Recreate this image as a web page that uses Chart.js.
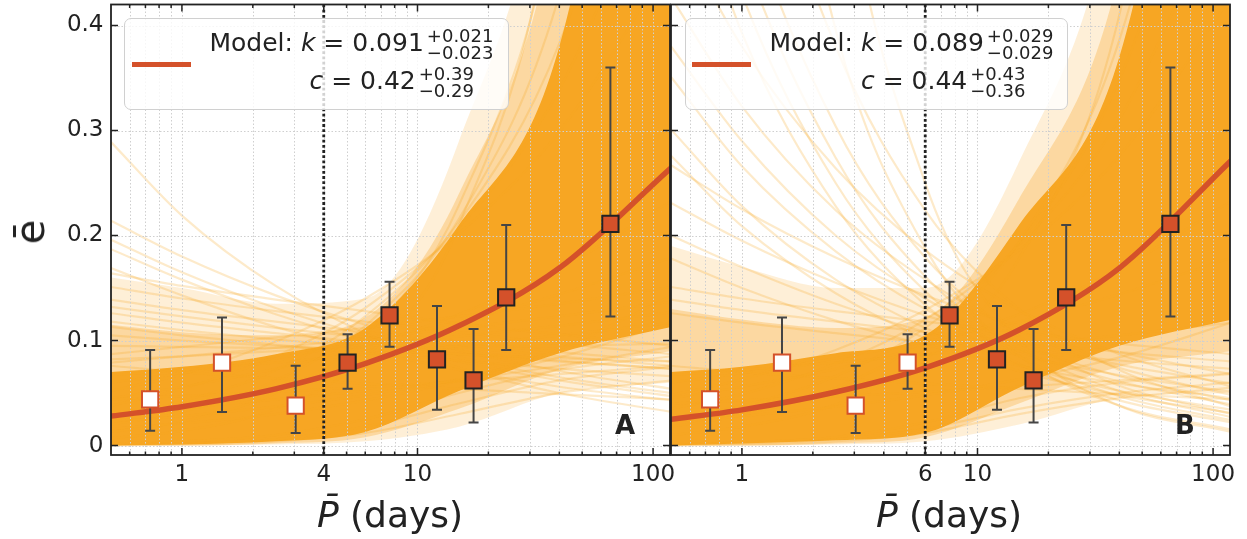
<!DOCTYPE html>
<html>
<head>
<meta charset="utf-8">
<script src="https://cdn.jsdelivr.net/npm/chart.js@4.4.1/dist/chart.umd.min.js"></script>
<style>
  body{margin:0;background:#fff;width:1247px;height:539px;overflow:hidden;position:relative;font-family:"DejaVu Sans",sans-serif;color:#222;}
  canvas{position:absolute;top:0;}
  #chartA{left:0;}
  #chartB{left:660px;}
  .legend{position:absolute;top:18px;height:92px;box-sizing:border-box;border:1.5px solid #d0d0d0;border-radius:7px;background:rgba(255,255,255,0.8);}
  .swatch{position:absolute;top:43px;width:59px;height:5px;background:#d4512a;}
  .row{position:absolute;font-size:25px;line-height:25px;white-space:nowrap;}
  .pm{display:inline-block;position:relative;width:0;height:0;}
  .pm span{position:absolute;left:3px;font-size:18px;line-height:18px;}
  .pm .up{bottom:6px;}
  .pm .dn{top:-7px;}
  .xlabel{position:absolute;top:497px;font-size:36px;line-height:36px;white-space:nowrap;transform:translateX(-50%);}
  .ylabel{position:absolute;left:30px;top:232px;font-size:40px;line-height:40px;transform:translate(-50%,-50%) rotate(-90deg);}
  .panel{position:absolute;top:412px;font-weight:bold;font-size:26px;line-height:26px;}
</style>
</head>
<body>
<canvas id="chartA" width="680" height="539"></canvas>
<canvas id="chartB" width="587" height="539"></canvas>

<div class="legend" style="left:124px;width:385px">
  <div class="swatch" style="left:6.5px"></div>
  <div class="row" style="left:84.5px;top:11px">Model: <i>k</i> = 0.091<span class="pm"><span class="up">+0.021</span><span class="dn">−0.023</span></span></div>
  <div class="row" style="left:184.5px;top:49px"><i>c</i> = 0.42<span class="pm"><span class="up">+0.39</span><span class="dn">−0.29</span></span></div>
</div>
<div class="legend" style="left:685px;width:383px">
  <div class="swatch" style="left:5.5px"></div>
  <div class="row" style="left:83.5px;top:11px">Model: <i>k</i> = 0.089<span class="pm"><span class="up">+0.029</span><span class="dn">−0.029</span></span></div>
  <div class="row" style="left:175px;top:49px"><i>c</i> = 0.44<span class="pm"><span class="up">+0.43</span><span class="dn">−0.36</span></span></div>
</div>

<div class="panel" style="left:615px">A</div>
<div class="panel" style="left:1175px">B</div>
<div class="xlabel" style="left:390px"><i>P̄</i> (days)</div>
<div class="xlabel" style="left:949px"><i>P̄</i> (days)</div>
<div class="ylabel">ē</div>

<script>
// periods (days) at which every curve is tabulated
const samplePeriods = [0.5, 1, 2.5, 6, 15, 40, 120];

// binned mean eccentricity with 1-sigma range
const binPeriods = [0.733, 1.48, 3.04, 5.05, 7.61, 12.1, 17.3, 23.8, 65.9];
const binEcc     = [0.044, 0.079, 0.038, 0.079, 0.124, 0.082, 0.062, 0.141, 0.211];
const binLow     = [0.014, 0.032, 0.012, 0.054, 0.094, 0.034, 0.022, 0.091, 0.123];
const binHigh    = [0.091, 0.122, 0.076, 0.106, 0.156, 0.133, 0.111, 0.210, 0.360];

// period cut used for each fit
const thresholdA = 4;
const thresholdB = 6;

// best-fit model
const modelA = [0.028, 0.037, 0.054, 0.078, 0.114, 0.169, 0.265];
const modelB = [0.025, 0.034, 0.051, 0.074, 0.110, 0.169, 0.272];

// dense part of the posterior draws
const coreLowA  = [0.000, 0.001, 0.004, 0.013, 0.052, 0.088, 0.113];
const coreHighA = [0.070, 0.075, 0.087, 0.112, 0.210, 0.380, 0.950];
const coreLowB  = [0.000, 0.002, 0.005, 0.012, 0.055, 0.095, 0.120];
const coreHighB = [0.070, 0.075, 0.088, 0.105, 0.210, 0.370, 0.900];

// two looser envelopes around the dense part
const innerLowA  = [0.000, 0.000, 0.002, 0.008, 0.035, 0.072, 0.090];
const innerHighA = [0.115, 0.108, 0.105, 0.122, 0.240, 0.520, 1.400];
const outerLowA  = [0.000, 0.000, 0.001, 0.004, 0.018, 0.050, 0.060];
const outerHighA = [0.160, 0.150, 0.135, 0.140, 0.290, 0.650, 1.800];
const innerLowB  = [0.000, 0.000, 0.002, 0.008, 0.040, 0.075, 0.090];
const innerHighB = [0.130, 0.120, 0.112, 0.122, 0.235, 0.450, 1.100];
const outerLowB  = [0.000, 0.000, 0.001, 0.004, 0.020, 0.045, 0.050];
const outerHighB = [0.190, 0.170, 0.150, 0.150, 0.270, 0.550, 1.400];

// individual posterior draws outside the dense part
const drawsA = [
  [0.289, 0.219, 0.152, 0.107, 0.074, 0.050, 0.032],
  [0.196, 0.165, 0.131, 0.105, 0.084, 0.065, 0.050],
  [0.214, 0.180, 0.143, 0.115, 0.091, 0.071, 0.054],
  [0.187, 0.158, 0.125, 0.100, 0.080, 0.062, 0.047],
  [0.139, 0.129, 0.118, 0.108, 0.099, 0.089, 0.080],
  [0.126, 0.117, 0.107, 0.098, 0.090, 0.081, 0.073],
  [0.151, 0.140, 0.128, 0.118, 0.108, 0.097, 0.087],
  [0.079, 0.085, 0.093, 0.102, 0.112, 0.123, 0.137],
  [0.087, 0.094, 0.103, 0.112, 0.123, 0.135, 0.151],
  [0.169, 0.143, 0.113, 0.091, 0.072, 0.056, 0.043],
  [0.164, 0.152, 0.139, 0.128, 0.116, 0.106, 0.095],
  [0.113, 0.105, 0.096, 0.088, 0.081, 0.073, 0.066],
  [0.013, 0.023, 0.050, 0.105, 0.229, 0.527, 1.340],
  [0.020, 0.032, 0.062, 0.114, 0.216, 0.429, 0.925],
  [0.028, 0.042, 0.072, 0.123, 0.213, 0.383, 0.740],
  [0.038, 0.054, 0.085, 0.131, 0.208, 0.339, 0.588],
  [0.007, 0.014, 0.035, 0.084, 0.210, 0.560, 1.680],
  [0.052, 0.068, 0.099, 0.140, 0.202, 0.299, 0.463],
  [0.023, 0.028, 0.037, 0.048, 0.063, 0.084, 0.117],
  [0.032, 0.036, 0.044, 0.052, 0.062, 0.076, 0.094],
  [0.016, 0.021, 0.030, 0.043, 0.062, 0.092, 0.143],
  [0.044, 0.047, 0.051, 0.056, 0.061, 0.068, 0.076],
  [0.076, 0.070, 0.064, 0.059, 0.054, 0.049, 0.044],
  [0.000, 0.001, 0.004, 0.012, 0.030, 0.050, 0.062],
  [0.001, 0.002, 0.006, 0.018, 0.040, 0.062, 0.075],
  [0.002, 0.004, 0.010, 0.025, 0.050, 0.072, 0.085],
  [0.067, 0.072, 0.079, 0.087, 0.095, 0.105, 0.117],
  [0.060, 0.069, 0.083, 0.099, 0.118, 0.144, 0.179],
  [0.045, 0.056, 0.073, 0.095, 0.125, 0.168, 0.233],
  [0.132, 0.123, 0.112, 0.103, 0.094, 0.085, 0.076],
  [0.095, 0.094, 0.093, 0.093, 0.094, 0.095, 0.097],
  [0.105, 0.100, 0.095, 0.091, 0.087, 0.083, 0.080],
  [0.082, 0.085, 0.090, 0.096, 0.104, 0.114, 0.127],
  [0.118, 0.110, 0.101, 0.094, 0.087, 0.080, 0.073]
];
const drawsB = [
  [0.796, 0.524, 0.304, 0.179, 0.104, 0.057, 0.030],
  [0.597, 0.393, 0.228, 0.134, 0.078, 0.043, 0.022],
  [0.427, 0.323, 0.224, 0.158, 0.109, 0.074, 0.048],
  [0.351, 0.266, 0.185, 0.130, 0.090, 0.061, 0.039],
  [0.301, 0.228, 0.158, 0.112, 0.077, 0.052, 0.034],
  [0.995, 0.655, 0.380, 0.224, 0.130, 0.072, 0.037],
  [0.231, 0.195, 0.155, 0.124, 0.099, 0.077, 0.059],
  [0.267, 0.225, 0.179, 0.143, 0.114, 0.089, 0.068],
  [0.151, 0.140, 0.128, 0.118, 0.108, 0.097, 0.087],
  [0.178, 0.150, 0.119, 0.096, 0.076, 0.059, 0.045],
  [0.716, 0.472, 0.274, 0.161, 0.093, 0.052, 0.027],
  [0.276, 0.209, 0.145, 0.102, 0.071, 0.048, 0.031],
  [0.502, 0.380, 0.264, 0.186, 0.129, 0.087, 0.056],
  [3.000, 1.500, 0.600, 0.250, 0.100, 0.038, 0.013],
  [1.560, 0.862, 0.396, 0.188, 0.086, 0.038, 0.015],
  [0.010, 0.018, 0.039, 0.082, 0.178, 0.410, 1.040],
  [0.018, 0.029, 0.055, 0.102, 0.194, 0.386, 0.833],
  [0.025, 0.038, 0.066, 0.112, 0.193, 0.348, 0.673],
  [0.035, 0.049, 0.078, 0.120, 0.191, 0.311, 0.539],
  [0.048, 0.063, 0.091, 0.129, 0.186, 0.276, 0.428],
  [0.023, 0.028, 0.037, 0.048, 0.063, 0.084, 0.117],
  [0.040, 0.043, 0.047, 0.051, 0.056, 0.062, 0.069],
  [0.000, 0.001, 0.004, 0.012, 0.030, 0.045, 0.055],
  [0.001, 0.002, 0.006, 0.016, 0.035, 0.050, 0.060],
  [0.001, 0.003, 0.008, 0.022, 0.045, 0.060, 0.068],
  [0.076, 0.070, 0.064, 0.059, 0.054, 0.049, 0.044],
  [0.067, 0.072, 0.079, 0.087, 0.095, 0.105, 0.117],
  [0.060, 0.069, 0.083, 0.099, 0.118, 0.144, 0.179],
  [0.045, 0.056, 0.073, 0.095, 0.125, 0.168, 0.233],
  [0.126, 0.117, 0.107, 0.098, 0.090, 0.081, 0.073],
  [0.139, 0.129, 0.118, 0.108, 0.099, 0.089, 0.080],
  [0.200, 0.170, 0.135, 0.108, 0.086, 0.067, 0.051],
  [0.380, 0.290, 0.200, 0.140, 0.097, 0.066, 0.043],
  [0.650, 0.430, 0.250, 0.147, 0.085, 0.047, 0.024]
];

// axis ticks
const xTicks = [0.6, 0.7, 0.8, 0.9, 1, 2, 3, 4, 5, 6, 7, 8, 9, 10, 20, 30, 40, 50, 60, 70, 80, 90, 100];
const xLabelsA = [1, 4, 10, 100];
const xLabelsB = [1, 6, 10, 100];
const yTicks = [0, 0.1, 0.2, 0.3, 0.4];

const ORANGE = 'rgb(247,166,35)';
const ORANGE_INNER = 'rgba(247,166,35,0.30)';
const ORANGE_OUTER = 'rgba(247,166,35,0.18)';
const ORANGE_FAINT = 'rgba(247,166,35,0.24)';
const RUST = '#d4512a';
const INK = '#222';
const FONT = {family: 'DejaVu Sans', size: 23};

function curve(values){
    return samplePeriods.map((p,i)=>({x:p, y:values[i]}));
}

// grid goes over the posterior cloud but under the model and points
function drawGrid(chart){
    const {ctx, chartArea:a, scales:{x, y}} = chart;
    ctx.save();
    ctx.strokeStyle = '#cfcfcf';
    ctx.lineWidth = 1;
    ctx.setLineDash([1.5, 2]);
    ctx.beginPath();
    x.ticks.forEach(t=>{
        const px = Math.round(x.getPixelForValue(t.value)) + 0.5;
        ctx.moveTo(px, a.top); ctx.lineTo(px, a.bottom);
    });
    y.ticks.forEach(t=>{
        const py = Math.round(y.getPixelForValue(t.value)) + 0.5;
        ctx.moveTo(a.left, py); ctx.lineTo(a.right, py);
    });
    ctx.stroke();
    ctx.restore();
}

// no extra room for edge labels: the plot box is fixed
function noPadding(s){
    s.paddingTop = 0; s.paddingBottom = 0; s.paddingLeft = 0; s.paddingRight = 0;
}

const axesDecor = {
    id: 'axesDecor',
    beforeDatasetDraw(chart, args){
        if(chart.data.datasets[args.index].role === 'model') drawGrid(chart);
    },
    afterDatasetsDraw(chart, args, opts){
        // period cut
        const {ctx, chartArea:a, scales:{x}} = chart;
        const px = x.getPixelForValue(opts.threshold);
        ctx.save();
        ctx.strokeStyle = INK;
        ctx.lineWidth = 2.8;
        ctx.setLineDash([2.8, 2.4]);
        ctx.beginPath();
        ctx.moveTo(px, a.top); ctx.lineTo(px, a.bottom);
        ctx.stroke();
        ctx.restore();
    },
    afterDraw(chart, args, opts){
        // frame with inward ticks on all four sides
        const {ctx, chartArea:a, scales:{x, y}} = chart;
        ctx.save();
        ctx.strokeStyle = INK;
        ctx.lineWidth = 1.5;
        ctx.beginPath();
        x.ticks.forEach(t=>{
            const px = x.getPixelForValue(t.value);
            const len = opts.xLabels.includes(t.value) ? 7 : 3.5;
            ctx.moveTo(px, a.bottom); ctx.lineTo(px, a.bottom - len);
            ctx.moveTo(px, a.top); ctx.lineTo(px, a.top + len);
        });
        y.ticks.forEach(t=>{
            const py = y.getPixelForValue(t.value);
            ctx.moveTo(a.left, py); ctx.lineTo(a.left + 7, py);
            ctx.moveTo(a.right, py); ctx.lineTo(a.right - 7, py);
        });
        ctx.stroke();
        ctx.lineWidth = 1.8;
        ctx.strokeRect(a.left, a.top, a.right - a.left, a.bottom - a.top);
        ctx.restore();
    }
};

function band(low, high, color, order){
    return [
        {data:curve(low), showLine:true, borderWidth:0, pointRadius:0,
            fill:false, cubicInterpolationMode:'monotone', order},
        {data:curve(high), showLine:true, borderWidth:0, pointRadius:0,
            fill:'-1', backgroundColor:color, cubicInterpolationMode:'monotone', order}
    ];
}

function makePanel(id, cfg){
    const datasets = [];
    datasets.push(...band(cfg.outerLow, cfg.outerHigh, ORANGE_OUTER, 12));
    datasets.push(...band(cfg.innerLow, cfg.innerHigh, ORANGE_INNER, 11));
    datasets.push(...band(cfg.coreLow, cfg.coreHigh, ORANGE, 10));
    cfg.draws.forEach(d=>{
        datasets.push({data:curve(d), showLine:true, borderColor:ORANGE_FAINT, borderWidth:2.2,
            pointRadius:0, cubicInterpolationMode:'monotone', order:9});
    });
    datasets.push({role:'model', data:curve(cfg.model), showLine:true, borderColor:RUST,
        borderWidth:5.5, pointRadius:0, cubicInterpolationMode:'monotone', order:3});

    // error bars: one segment per bin, caps drawn as line point markers
    const bars = [];
    binPeriods.forEach((p,i)=>{
        bars.push({x:p, y:binLow[i]}, {x:p, y:binHigh[i]}, {x:p, y:null});
    });
    datasets.push({data:bars, showLine:true, spanGaps:false, borderColor:'#454545', borderWidth:2,
        pointStyle:'line', pointRadius:5, pointBorderColor:'#454545', pointBorderWidth:2, order:2});

    const below = ctx => binPeriods[ctx.dataIndex] < cfg.threshold;
    datasets.push({data:binPeriods.map((p,i)=>({x:p, y:binEcc[i]})), showLine:false,
        pointStyle:'rect', pointRadius:11.5, pointBorderWidth:2,
        pointBackgroundColor: c => below(c) ? '#ffffff' : RUST,
        pointBorderColor: c => below(c) ? RUST : INK, order:1});

    return new Chart(document.getElementById(id), {
        type:'scatter',
        data:{datasets},
        options:{
            responsive:false, animation:false, devicePixelRatio:1, events:[],
            layout:{autoPadding:false, padding:{left:0, top:4.5, right:cfg.padRight, bottom:0}},
            plugins:{legend:{display:false}, tooltip:{enabled:false},
                axesDecor:{threshold:cfg.threshold, xLabels:cfg.xLabels}},
            scales:{
                x:{type:'logarithmic', min:0.5, max:118, bounds:'data',
                    afterBuildTicks: s=>{ s.ticks = xTicks.map(v=>({value:v})); },
                    afterFit: s=>{ s.height = 84; noPadding(s); },
                    grid:{display:false, drawTicks:false}, border:{display:false},
                    ticks:{autoSkip:false, maxRotation:0, minRotation:0, padding:6, font:FONT, color:INK,
                        callback: v => cfg.xLabels.includes(v) ? String(v) : ''}},
                y:{type:'linear', min:-0.009, max:0.42, bounds:'data',
                    afterBuildTicks: s=>{ s.ticks = yTicks.map(v=>({value:v})); },
                    afterFit: s=>{ s.width = cfg.axisWidth; noPadding(s); },
                    grid:{display:false, drawTicks:false}, border:{display:false},
                    ticks:{display:cfg.yLabels, padding:7.5, font:FONT, color:INK,
                        callback: v => v === 0 ? '0' : v.toFixed(1)}}
            }
        },
        plugins:[axesDecor]
    });
}

makePanel('chartA', {coreLow:coreLowA, coreHigh:coreHighA, innerLow:innerLowA, innerHigh:innerHighA,
    outerLow:outerLowA, outerHigh:outerHighA, draws:drawsA, model:modelA, threshold:thresholdA,
    xLabels:xLabelsA, axisWidth:111, padRight:10, yLabels:true});
makePanel('chartB', {coreLow:coreLowB, coreHigh:coreHighB, innerLow:innerLowB, innerHigh:innerHighB,
    outerLow:outerLowB, outerHigh:outerHighB, draws:drawsB, model:modelB, threshold:thresholdB,
    xLabels:xLabelsB, axisWidth:11, padRight:17, yLabels:false});
</script>
</body>
</html>
